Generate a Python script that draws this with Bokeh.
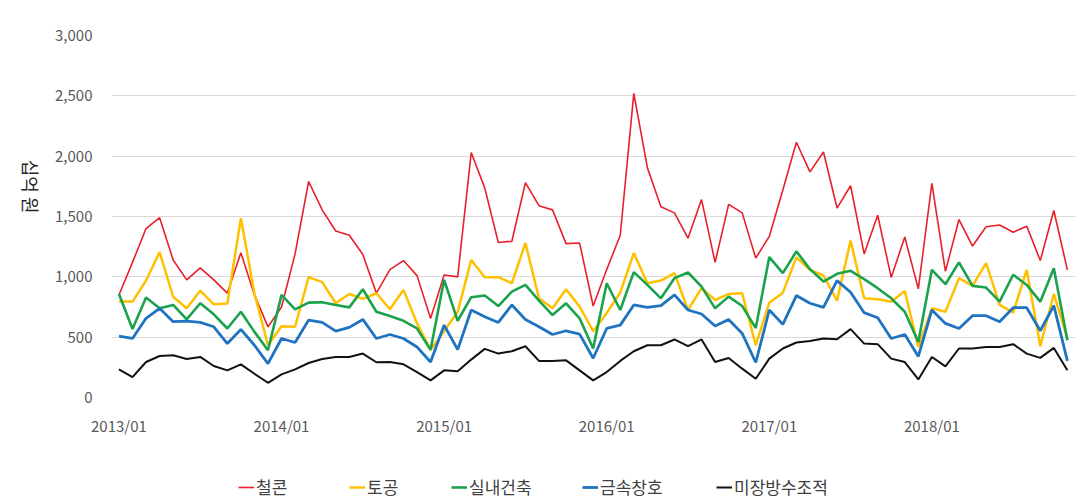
import math
from bokeh.plotting import figure
from bokeh.layouts import row, column
from bokeh.models import Range1d, FixedTicker, Legend, LegendItem, Label, NumeralTickFormatter
from bokeh.embed import file_html
from bokeh.resources import INLINE

months = list(range(71))  # 2013/01 .. 2018/11
tick_pos = [0, 12, 24, 36, 48, 60]
tick_labels = ["2013/01", "2014/01", "2015/01", "2016/01", "2017/01", "2018/01"]

series_names = ["철콘", "토공", "실내건축", "금속창호", "미장방수조적"]
y_title = "십억 원"

cheolkon = [850, 1120, 1400, 1490, 1140, 975, 1075, 975, 865, 1200, 850, 585,
            750, 1190, 1790, 1555, 1380, 1345, 1185, 865, 1060, 1135, 1010, 655,
            1015, 1000, 2030, 1735, 1285, 1295, 1780, 1590, 1555, 1275, 1280, 758,
            1060, 1345, 2520, 1905, 1580, 1530, 1320, 1640, 1120, 1600, 1530, 1155,
            1335, 1720, 2115, 1870, 2035, 1570, 1755, 1190, 1510, 995, 1330, 900,
            1775, 1045, 1475, 1255, 1415, 1430, 1370, 1420, 1135, 1550, 1058]
togong = [795, 795, 970, 1205, 835, 740, 885, 772, 778, 1485, 862, 433,
          590, 586, 997, 956, 781, 858, 817, 864, 731, 892, 614, 395,
          550, 710, 1140, 997, 997, 947, 1281, 822, 739, 897, 753, 550,
          700, 870, 1197, 947, 969, 1031, 725, 906, 808, 858, 864, 433,
          786, 869, 1161, 1058, 1011, 803, 1300, 822, 814, 794, 883, 419,
          739, 711, 989, 925, 1114, 767, 703, 1058, 425, 858, 489]
silnae = [858, 567, 828, 739, 767, 647, 781, 689, 572, 711, 544, 392,
          850, 731, 786, 789, 767, 747, 897, 711, 675, 636, 572, 395,
          975, 636, 831, 845, 758, 878, 933, 803, 683, 781, 656, 406,
          947, 725, 1039, 933, 822, 989, 1036, 919, 739, 836, 758, 575,
          1164, 1031, 1211, 1064, 961, 1025, 1050, 981, 906, 822, 711, 460,
          1058, 939, 1120, 925, 911, 794, 1017, 933, 794, 1072, 475]
geumsok = [508, 489, 656, 739, 628, 633, 622, 586, 447, 564, 433, 281,
           489, 456, 642, 622, 550, 581, 647, 489, 522, 489, 419, 294,
           600, 397, 725, 669, 622, 767, 647, 586, 522, 553, 525, 325,
           572, 600, 767, 747, 761, 850, 725, 692, 592, 647, 531, 290,
           725, 606, 845, 781, 747, 969, 872, 703, 661, 489, 522, 340,
           725, 614, 572, 678, 678, 628, 744, 744, 553, 761, 303]
mijang = [233, 169, 294, 344, 350, 319, 336, 261, 225, 275, 197, 122,
          192, 233, 286, 319, 336, 336, 364, 292, 294, 275, 211, 142,
          225, 217, 314, 403, 364, 383, 425, 303, 303, 308, 225, 142,
          211, 303, 383, 433, 433, 481, 425, 481, 294, 328, 239, 155,
          322, 406, 456, 469, 489, 483, 567, 447, 442, 322, 294, 150,
          336, 258, 406, 406, 419, 419, 442, 364, 328, 411, 225]

all_series = [cheolkon, togong, silnae, geumsok, mijang]
colors = ["#E8202A", "#FFC000", "#1BA24C", "#1F73C0", "#111111"]
widths = [1.6, 2.5, 2.6, 2.8, 2.0]

FONT = "Noto Sans CJK KR"

TOP_H = 460

# ---------------- main chart ----------------
p = figure(width=1036, height=TOP_H, x_range=Range1d(-0.55, 70.6), y_range=Range1d(0, 3000),
           output_backend="svg", toolbar_location=None,
           min_border_left=58, min_border_right=13, min_border_top=35,
           min_border_bottom=TOP_H - 397)
p.outline_line_color = None
p.background_fill_color = "white"
p.border_fill_color = "white"

for name, vals, c, w in zip(series_names, all_series, colors, widths):
    p.line(months, vals, line_color=c, line_width=w)

p.xaxis.ticker = FixedTicker(ticks=tick_pos)
p.xaxis.major_label_overrides = {t: l for t, l in zip(tick_pos, tick_labels)}
p.yaxis.ticker = FixedTicker(ticks=[0, 500, 1000, 1500, 2000, 2500, 3000])
p.yaxis.formatter = NumeralTickFormatter(format="0,0")
for ax in (p.xaxis, p.yaxis):
    ax.axis_line_color = None
    ax.major_tick_line_color = None
    ax.minor_tick_line_color = None
    ax.major_label_text_font = FONT
    ax.major_label_text_font_size = "15px"
    ax.major_label_text_color = "#595959"
p.xaxis.major_label_standoff = 11
p.yaxis.major_label_standoff = 13

p.xgrid.grid_line_color = None
p.ygrid.grid_line_color = "#D9D9D9"
p.ygrid.grid_line_width = 1

# ---------------- y title (rotated clockwise) ----------------
yl = figure(width=52, height=TOP_H, x_range=Range1d(0, 52), y_range=Range1d(0, TOP_H),
            output_backend="svg", toolbar_location=None,
            x_axis_location=None, y_axis_location=None,
            min_border_left=0, min_border_right=0, min_border_top=0, min_border_bottom=0)
yl.outline_line_color = None
yl.xgrid.visible = False
yl.ygrid.visible = False
yl.add_layout(Label(x=30, y=TOP_H - 192, text=y_title, angle=-math.pi / 2,
                    text_align="center", text_baseline="middle",
                    text_font=FONT, text_font_size="18px", text_color="#262626"))

# ---------------- legend strip ----------------
lg = figure(width=1088, height=40, x_range=Range1d(0, 1), y_range=Range1d(0, 1),
            output_backend="svg", toolbar_location=None,
            x_axis_location=None, y_axis_location=None,
            min_border_left=0, min_border_right=0, min_border_top=0, min_border_bottom=0)
lg.outline_line_color = None
lg.xgrid.visible = False
lg.ygrid.visible = False
legend_x = [238, 349, 451, 582, 716]
for name, c, w, lx in zip(series_names, colors, widths, legend_x):
    r = lg.line(x=[-2, -1], y=[-2, -2], line_color=c, line_width=w)
    leg = Legend(items=[LegendItem(label=name, renderers=[r])], orientation="horizontal",
                 location=(lx, 1), padding=0, margin=0, glyph_width=16, glyph_height=18,
                 label_standoff=2, label_text_font=FONT, label_text_font_size="17px",
                 label_text_color="#404040", border_line_color=None,
                 background_fill_alpha=0)
    lg.add_layout(leg)

layout = column(row(yl, p), lg)
open("out.html", "w").write(file_html(layout, INLINE))
